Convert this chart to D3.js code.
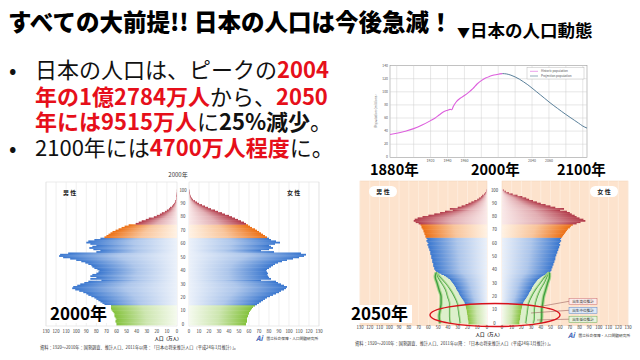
<!DOCTYPE html>
<html>
<head>
<meta charset="utf-8">
<script src="https://cdn.jsdelivr.net/npm/d3@7"></script>
<style>
  body { margin: 0; background: #fff; }
  svg { display: block; }
  text { font-family: "Noto Sans CJK JP", "Noto Sans", sans-serif; }
</style>
</head>
<body>
<svg id="slide" width="640" height="360"></svg>
<script>
// ---- data ----
// population line chart (millions)
const histYears = [1872, 1880, 1890, 1900, 1910, 1920, 1925, 1930, 1935, 1940, 1943, 1945, 1947, 1950, 1955, 1960, 1965, 1970, 1975, 1980, 1985, 1990, 1995, 2000, 2005];
const histPop   = [34.8, 36.6, 39.9, 43.8, 49.2, 56.0, 59.7, 64.5, 69.3, 71.9, 73.2, 72.6, 78.1, 84.1, 90.1, 94.3, 99.2, 104.7, 111.9, 117.1, 121.0, 123.6, 125.6, 126.9, 127.8];
const projYears = [2005, 2010, 2015, 2020, 2025, 2030, 2035, 2040, 2045, 2050, 2055, 2060, 2065, 2070, 2075, 2080, 2085, 2090, 2095, 2100, 2105];
const projPop   = [127.8, 127.2, 125.4, 122.7, 119.3, 115.2, 110.7, 105.7, 100.4, 95.2, 89.9, 84.6, 79.6, 74.8, 70.0, 65.4, 61.0, 56.6, 52.2, 47.7, 44.6];
const yearTicks = [1880, 1900, 1920, 1940, 1960, 1980, 2000, 2020, 2040, 2060, 2080, 2100];
const yearLabels = [1920, 1940, 1960, 2040, 2060];   // the others sit under the big year labels
const popTicks  = [0, 20, 40, 60, 80, 100, 120, 140];

// pyramids: population by age 0..100 (万人)
const male2000 = [60,60,61,61,60, 61,62,62,62,63, 64,65,66,68,70, 72,74,76,78,80, 82,85,88,90,93, 97,101,104,103,99,
  96,92,88,75,86, 80,86,84,80,78, 77,79,82,84,85, 88,91,95,100,106, 113,117,116,108,80, 76,83,87,84,80,
  86,90,88,82,76, 72,70,68,66,64, 61,58,55,52,48, 41,38,35,31,28, 23,20,17,15,12, 10,8,7,5,4, 3,2,2,1,1, 1,0.5,0.3,0.2,0.1, 0.1];
const female2000 = [57,57,58,58,58, 58,59,59,60,60, 61,62,63,64,66, 68,70,72,74,76, 78,81,84,87,90, 92,95,97,98,95,
  92,89,87,72,82, 80,79,78,79,78, 77,78,80,82,84, 86,89,93,98,104, 110,115,117,112,85, 72,80,84,82,80,
  86,91,87,82,80, 78,76,74,72,70, 68,66,63,61,59, 57,55,52,49,46, 43,40,36,33,29, 26,22,19,16,13, 10,8,6,4,3, 2,1.5,1,0.6,0.4, 0.3];
const male2050 = [19,19,19,20,20, 20,20,21,21,21, 21,22,22,22,22, 23,23,24,25,26, 27,28,29,29,30, 31,32,32,33,34,
  35,36,37,38,40, 42,44,47,51,52, 53,54,54,55,55, 55,56,56,56,57, 57,57,58,58,58, 59,59,60,60,61,
  60,61,62,61,62, 63,63,64,64,65, 65,66,67,67,68, 70,73,75,74,71, 66,60,54,48,43, 35,38,30,26,22, 19,16,13,10,8, 6,5,3,2,1, 1];
const female2050 = [18,18,18,19,19, 19,19,20,20,20, 20,21,21,21,21, 22,22,23,24,25, 26,27,28,28,29, 30,31,31,32,33,
  34,35,36,37,39, 41,43,46,49,50, 51,51,52,52,53, 53,54,54,55,55, 55,56,56,57,57, 58,58,59,59,60,
  59,60,61,60,61, 62,63,64,65,66, 67,68,70,71,73, 77,81,86,84,80, 77,75,72,70,67, 60,64,55,50,45, 40,36,32,28,25, 21,16,11,7,4, 2];

// 2050 birth variants (ages 0..38)
const variantAges = [0, 5, 10, 15, 20, 25, 30, 35, 38];
const maleHigh   = [48, 49, 48, 47, 47, 49, 51, 53, 52];
const maleMid    = [38, 39, 39, 39, 41, 43, 47, 51, 52];
const maleLow    = [28, 29, 30, 31, 34, 38, 43, 49, 52];
const femaleHigh = [40, 41, 41, 42, 43, 45, 47, 49, 49];
const femaleMid  = [33, 34, 34, 35, 37, 40, 44, 47, 49];
const femaleLow  = [25, 26, 27, 28, 31, 35, 40, 45, 49];
const valueTicks = [0, 10, 20, 30, 40, 50, 60, 70, 80, 90, 100, 110, 120, 130];
const ageTicks = [0, 10, 20, 30, 40, 50, 60, 70, 80, 90, 100];

const RED = "#e60f1a";
const svg = d3.select("#slide");
const defs = svg.append("defs");

// gradients for age groups, light at the centre, saturated at the outer edge
const groups = {
  green:  ["#f5faee", "#84c23c"],
  blue:   ["#ebf1fa", "#3a77cf"],
  orange: ["#fff2e4", "#ec7015"],
  red:    ["#faeaea", "#b23b4a"]
};
Object.entries(groups).forEach(([name, [light, dark]]) => {
  ["L", "R"].forEach(side => {
    const gr = defs.append("linearGradient").attr("id", `g-${name}-${side}`)
      .attr("x1", side === "L" ? "100%" : "0%").attr("x2", side === "L" ? "0%" : "100%")
      .attr("y1", "0%").attr("y2", "0%");
    gr.append("stop").attr("offset", "0").attr("stop-color", light);
    gr.append("stop").attr("offset", "0.5").attr("stop-color", d3.interpolateRgb(light, dark)(0.35));
    gr.append("stop").attr("offset", "1").attr("stop-color", dark);
  });
});
const groupOf = a => a < 15 ? "green" : a < 65 ? "blue" : a < 75 ? "orange" : "red";

// ---- title ----
svg.append("text").attr("x", 8).attr("y", 31)
  .attr("font-size", 23.5).attr("font-weight", 900).attr("fill", "#000")
  .text("すべての大前提!! 日本の人口は今後急減！");
const sub = svg.append("text").attr("x", 457).attr("y", 37)
  .attr("font-size", 17.5).attr("font-weight", 700).attr("fill", "#000");
sub.append("tspan").attr("font-size", 13).text("▼");
sub.append("tspan").text("日本の人口動態");

// ---- bullets ----
const bulletLines = [
  [["日本の人口は、ピークの", 0, "#111"], ["2004", 1, RED]],
  [["年の1億2784万人", 1, RED], ["から、", 0, "#111"], ["2050", 1, RED]],
  [["年には9515万人", 1, RED], ["に", 0, "#111"], ["25%減少", 1, "#111"], ["。", 0, "#111"]],
  [["2100年には", 0, "#111"], ["4700万人程度", 1, RED], ["に。", 0, "#111"]]
];
const lineY = [78, 104.5, 130, 156];
bulletLines.forEach((parts, i) => {
  if (i === 0 || i === 3) {
    svg.append("text").attr("x", 9).attr("y", lineY[i]).attr("font-size", 22).attr("fill", "#111").text("•");
  }
  const t = svg.append("text").attr("x", 35).attr("y", lineY[i]).attr("font-size", 22);
  parts.forEach(([s, bold, col]) => {
    t.append("tspan").attr("font-weight", bold ? 700 : 400).attr("fill", col).text(s);
  });
});

// ---- population line chart ----
const xLine = d3.scaleLinear().domain([1872, 2105]).range([390, 587]);
const yLine = d3.scaleLinear().domain([0, 140]).range([157.3, 65.6]);
const lc = svg.append("g");
lc.append("rect").attr("x", 390).attr("y", 65.6).attr("width", 197).attr("height", 91.7)
  .attr("fill", "#fff").attr("stroke", "#9a9a9a").attr("stroke-width", 0.6);
lc.selectAll(".vg").data(yearTicks).join("line")
  .attr("x1", d => xLine(d)).attr("x2", d => xLine(d)).attr("y1", 65.6).attr("y2", 157.3)
  .attr("stroke", "#cfcfcf").attr("stroke-width", 0.5);
lc.selectAll(".hg").data(popTicks.slice(1, -1)).join("line")
  .attr("x1", 390).attr("x2", 587).attr("y1", d => yLine(d)).attr("y2", d => yLine(d))
  .attr("stroke", "#cfcfcf").attr("stroke-width", 0.5);
lc.selectAll(".yl").data(popTicks).join("text")
  .attr("x", 388).attr("y", d => yLine(d) + 1).attr("text-anchor", "end")
  .attr("font-size", 3.4).attr("fill", "#555").text(d => d);
lc.selectAll(".xl").data(yearLabels).join("text")
  .attr("x", d => xLine(d)).attr("y", 162).attr("text-anchor", "middle")
  .attr("font-size", 3.6).attr("fill", "#555").text(d => d);
lc.append("text").attr("transform", "translate(377,111) rotate(-90)").attr("text-anchor", "middle")
  .attr("font-size", 3.4).attr("fill", "#666").text("Population (millions)");
const lineGen = d3.line().x(d => xLine(d[0])).y(d => yLine(d[1])).curve(d3.curveMonotoneX);
lc.append("path").datum(d3.zip(histYears, histPop)).attr("d", lineGen)
  .attr("fill", "none").attr("stroke", "#dd5fdd").attr("stroke-width", 1.1);
lc.append("path").datum(d3.zip(projYears, projPop)).attr("d", lineGen)
  .attr("fill", "none").attr("stroke", "#47728e").attr("stroke-width", 0.9);
// legend
lc.append("rect").attr("x", 527).attr("y", 67.5).attr("width", 57).attr("height", 11.5)
  .attr("fill", "#fff").attr("stroke", "#aaa").attr("stroke-width", 0.4);
[["Historic population", "#dd5fdd", 71.3], ["Projection population", "#47728e", 76]].forEach(([lab, col, yy]) => {
  lc.append("line").attr("x1", 530).attr("x2", 538).attr("y1", yy).attr("y2", yy).attr("stroke", col).attr("stroke-width", 0.6);
  lc.append("text").attr("x", 541).attr("y", yy + 1).attr("font-size", 3).attr("fill", "#555").text(lab);
});
// big year labels on white
[["1880年", 370], ["2000年", 471], ["2100年", 557]].forEach(([s, x]) => {
  svg.append("rect").attr("x", x - 2).attr("y", 164).attr("width", 54).attr("height", 13).attr("fill", "#fff");
  svg.append("text").attr("x", x).attr("y", 175).attr("font-size", 14.5).attr("font-weight", 700)
    .attr("fill", "#000").text(s);
});

// ---- pyramids ----
function pyramid(p) {
  const g = svg.append("g");
  const xL = d3.scaleLinear().domain([0, 130]).range(p.left);
  const xR = d3.scaleLinear().domain([0, 130]).range(p.right);
  const y = d3.scaleLinear().domain([0, 100]).range(p.ages);
  const h = Math.abs(y(1) - y(0));
  const sides = [[xL, "L", p.male], [xR, "R", p.female]];

  sides.forEach(([x, side, data]) => {
    const x0 = Math.min(x(0), x(130)), x1 = Math.max(x(0), x(130));
    g.append("rect").attr("x", x0).attr("y", p.top).attr("width", x1 - x0).attr("height", p.bottom - p.top)
      .attr("fill", p.bg).attr("stroke", p.frame).attr("stroke-width", 0.5);
    g.append("g").selectAll("line").data(valueTicks.slice(1)).join("line")
      .attr("x1", d => x(d)).attr("x2", d => x(d)).attr("y1", p.top).attr("y2", p.bottom)
      .attr("stroke", p.grid).attr("stroke-width", 0.6);
    g.append("g").selectAll("rect").data(data).join("rect")
      .attr("x", d => side === "L" ? x(d) : x(0))
      .attr("width", d => Math.abs(x(d) - x(0)))
      .attr("y", (d, a) => y(a) - h / 2)
      .attr("height", h + 0.45)
      .attr("fill", (d, a) => `url(#g-${groupOf(a)}-${side})`);
    g.append("g").selectAll("text").data(valueTicks).join("text")
      .attr("x", d => x(d)).attr("y", p.tickY).attr("text-anchor", "middle")
      .attr("font-size", 4.3).attr("fill", "#333").text(d => d);
  });

  if (p.variants) {
    const v = p.variants;
    [[xL, v.male, p.male], [xR, v.female, p.female]].forEach(([x, vv, bars]) => {
      const curves = [variantAges.map(a => bars[a]), vv.low, vv.mid, vv.high];
      for (let k = 1; k < curves.length; k++) {
        const inner = curves[k - 1], outer = curves[k];
        const area = d3.area().curve(d3.curveMonotoneY)
          .y((d, i) => y(variantAges[i]))
          .x0((d, i) => x(inner[i])).x1((d, i) => x(outer[i]));
        g.append("path").datum(variantAges).attr("d", area).attr("fill", "#dcefcb");
        const edge = d3.line().curve(d3.curveMonotoneY)
          .y((d, i) => y(variantAges[i])).x((d, i) => x(outer[i]));
        g.append("path").datum(variantAges).attr("d", edge)
          .attr("fill", "none").attr("stroke", "#a9d68c").attr("stroke-width", 3.4);
        g.append("path").datum(variantAges).attr("d", edge)
          .attr("fill", "none").attr("stroke", "#3f9f3f").attr("stroke-width", 1.3);
      }
    });
  }

  // centre age labels
  g.append("g").selectAll("text").data(ageTicks).join("text")
    .attr("x", p.mid).attr("y", d => y(d) + 1.5).attr("text-anchor", "middle")
    .attr("font-size", 4.3).attr("fill", "#333").text(d => d);
  return { xL, xR, y };
}

// 2000
svg.append("text").attr("x", 178).attr("y", 177).attr("text-anchor", "middle")
  .attr("font-size", 6).attr("fill", "#333").text("2000年");
pyramid({
  left: [177, 46], right: [189, 319], ages: [324.3, 190], top: 182, bottom: 326, mid: 183,
  bg: "#fff", frame: "#d6d6d6", grid: "#e6e6e6", tickY: 333,
  male: male2000, female: female2000
});
svg.append("text").attr("x", 63).attr("y", 195).attr("font-size", 6).attr("font-weight", 700).attr("fill", "#222").text("男 性");
svg.append("text").attr("x", 287).attr("y", 195).attr("font-size", 6).attr("font-weight", 700).attr("fill", "#222").text("女 性");
svg.append("text").attr("x", 168).attr("y", 340).attr("text-anchor", "middle").attr("font-size", 4.5).attr("font-weight", 700).attr("fill", "#333").text("人口（万人）");

// 2050
pyramid({
  left: [487, 360], right: [502, 628], ages: [323.3, 190], top: 181, bottom: 325.5, mid: 494.5,
  bg: "#fde3cd", frame: "#f3d2b8", grid: "#fff3e8", tickY: 329,
  male: male2050, female: female2050,
  variants: {
    male: { low: maleLow, mid: maleMid, high: maleHigh },
    female: { low: femaleLow, mid: femaleMid, high: femaleHigh }
  }
});
[["男 性", 369], ["女 性", 590]].forEach(([s, x]) => {
  svg.append("rect").attr("x", x).attr("y", 186).attr("width", 28).attr("height", 11).attr("rx", 5.5).attr("fill", "#fff");
  svg.append("text").attr("x", x + 14).attr("y", 193.8).attr("text-anchor", "middle")
    .attr("font-size", 6).attr("font-weight", 700).attr("fill", "#222").text(s);
});
svg.append("text").attr("x", 489).attr("y", 335.5).attr("text-anchor", "middle").attr("font-size", 4.5).attr("font-weight", 700).attr("fill", "#333").text("人口（万人）");

// variant legend boxes with pointers
[["出生高位推計", 298.3, "#fbeaea", "#c96a6a", [540, 306.5]],
 ["出生中位推計", 307.3, "#dde9f7", "#5b86c8", [531, 313]],
 ["出生低位推計", 316.2, "#e7f3dd", "#6aab50", [537, 320]]].forEach(([s, yy, fill, stroke, pt]) => {
  svg.append("line").attr("x1", 569).attr("y1", yy + 3).attr("x2", pt[0]).attr("y2", pt[1])
    .attr("stroke", "#8a4a4a").attr("stroke-width", 0.5);
  svg.append("rect").attr("x", 569).attr("y", yy).attr("width", 28).attr("height", 6.2)
    .attr("fill", fill).attr("stroke", stroke).attr("stroke-width", 0.5);
  svg.append("text").attr("x", 583).attr("y", yy + 4.5).attr("text-anchor", "middle")
    .attr("font-size", 3.6).attr("fill", "#333").text(s);
});

// red ellipse
svg.append("ellipse").attr("cx", 495).attr("cy", 315).attr("rx", 65).attr("ry", 11.5)
  .attr("fill", "none").attr("stroke", "#d8121c").attr("stroke-width", 1.4);

// big year labels for pyramids
[["2000年", 50, 305], ["2050年", 351, 305]].forEach(([s, x, yy]) => {
  svg.append("rect").attr("x", x - 2).attr("y", yy).attr("width", 63).attr("height", 18).attr("fill", "#fff");
  svg.append("text").attr("x", x).attr("y", yy + 15).attr("font-size", 17).attr("font-weight", 700).attr("fill", "#000").text(s);
});

// logos and sources
[[256, 340.5], [568, 337.5]].forEach(([x, yy]) => {
  svg.append("text").attr("x", x).attr("y", yy).attr("font-size", 7).attr("font-style", "italic")
    .attr("font-weight", 700).attr("fill", "#3b5fb5").text("Ai");
  svg.append("text").attr("x", x + 10.5).attr("y", yy - 0.5).attr("font-size", 3.7).attr("fill", "#333")
    .text("国立社会保障・人口問題研究所");
});
svg.append("text").attr("x", 40).attr("y", 349).attr("font-size", 4.2).attr("fill", "#333")
  .text("資料：1920～2010年：国勢調査、推計人口、2011年以降：「日本の将来推計人口（平成24年1月推計）」。");
svg.append("text").attr("x", 355).attr("y", 344.5).attr("font-size", 4.2).attr("fill", "#333")
  .text("資料：1920～2010年：国勢調査、推計人口、2011年以降：「日本の将来推計人口（平成24年1月推計）」。");
</script>
</body>
</html>
